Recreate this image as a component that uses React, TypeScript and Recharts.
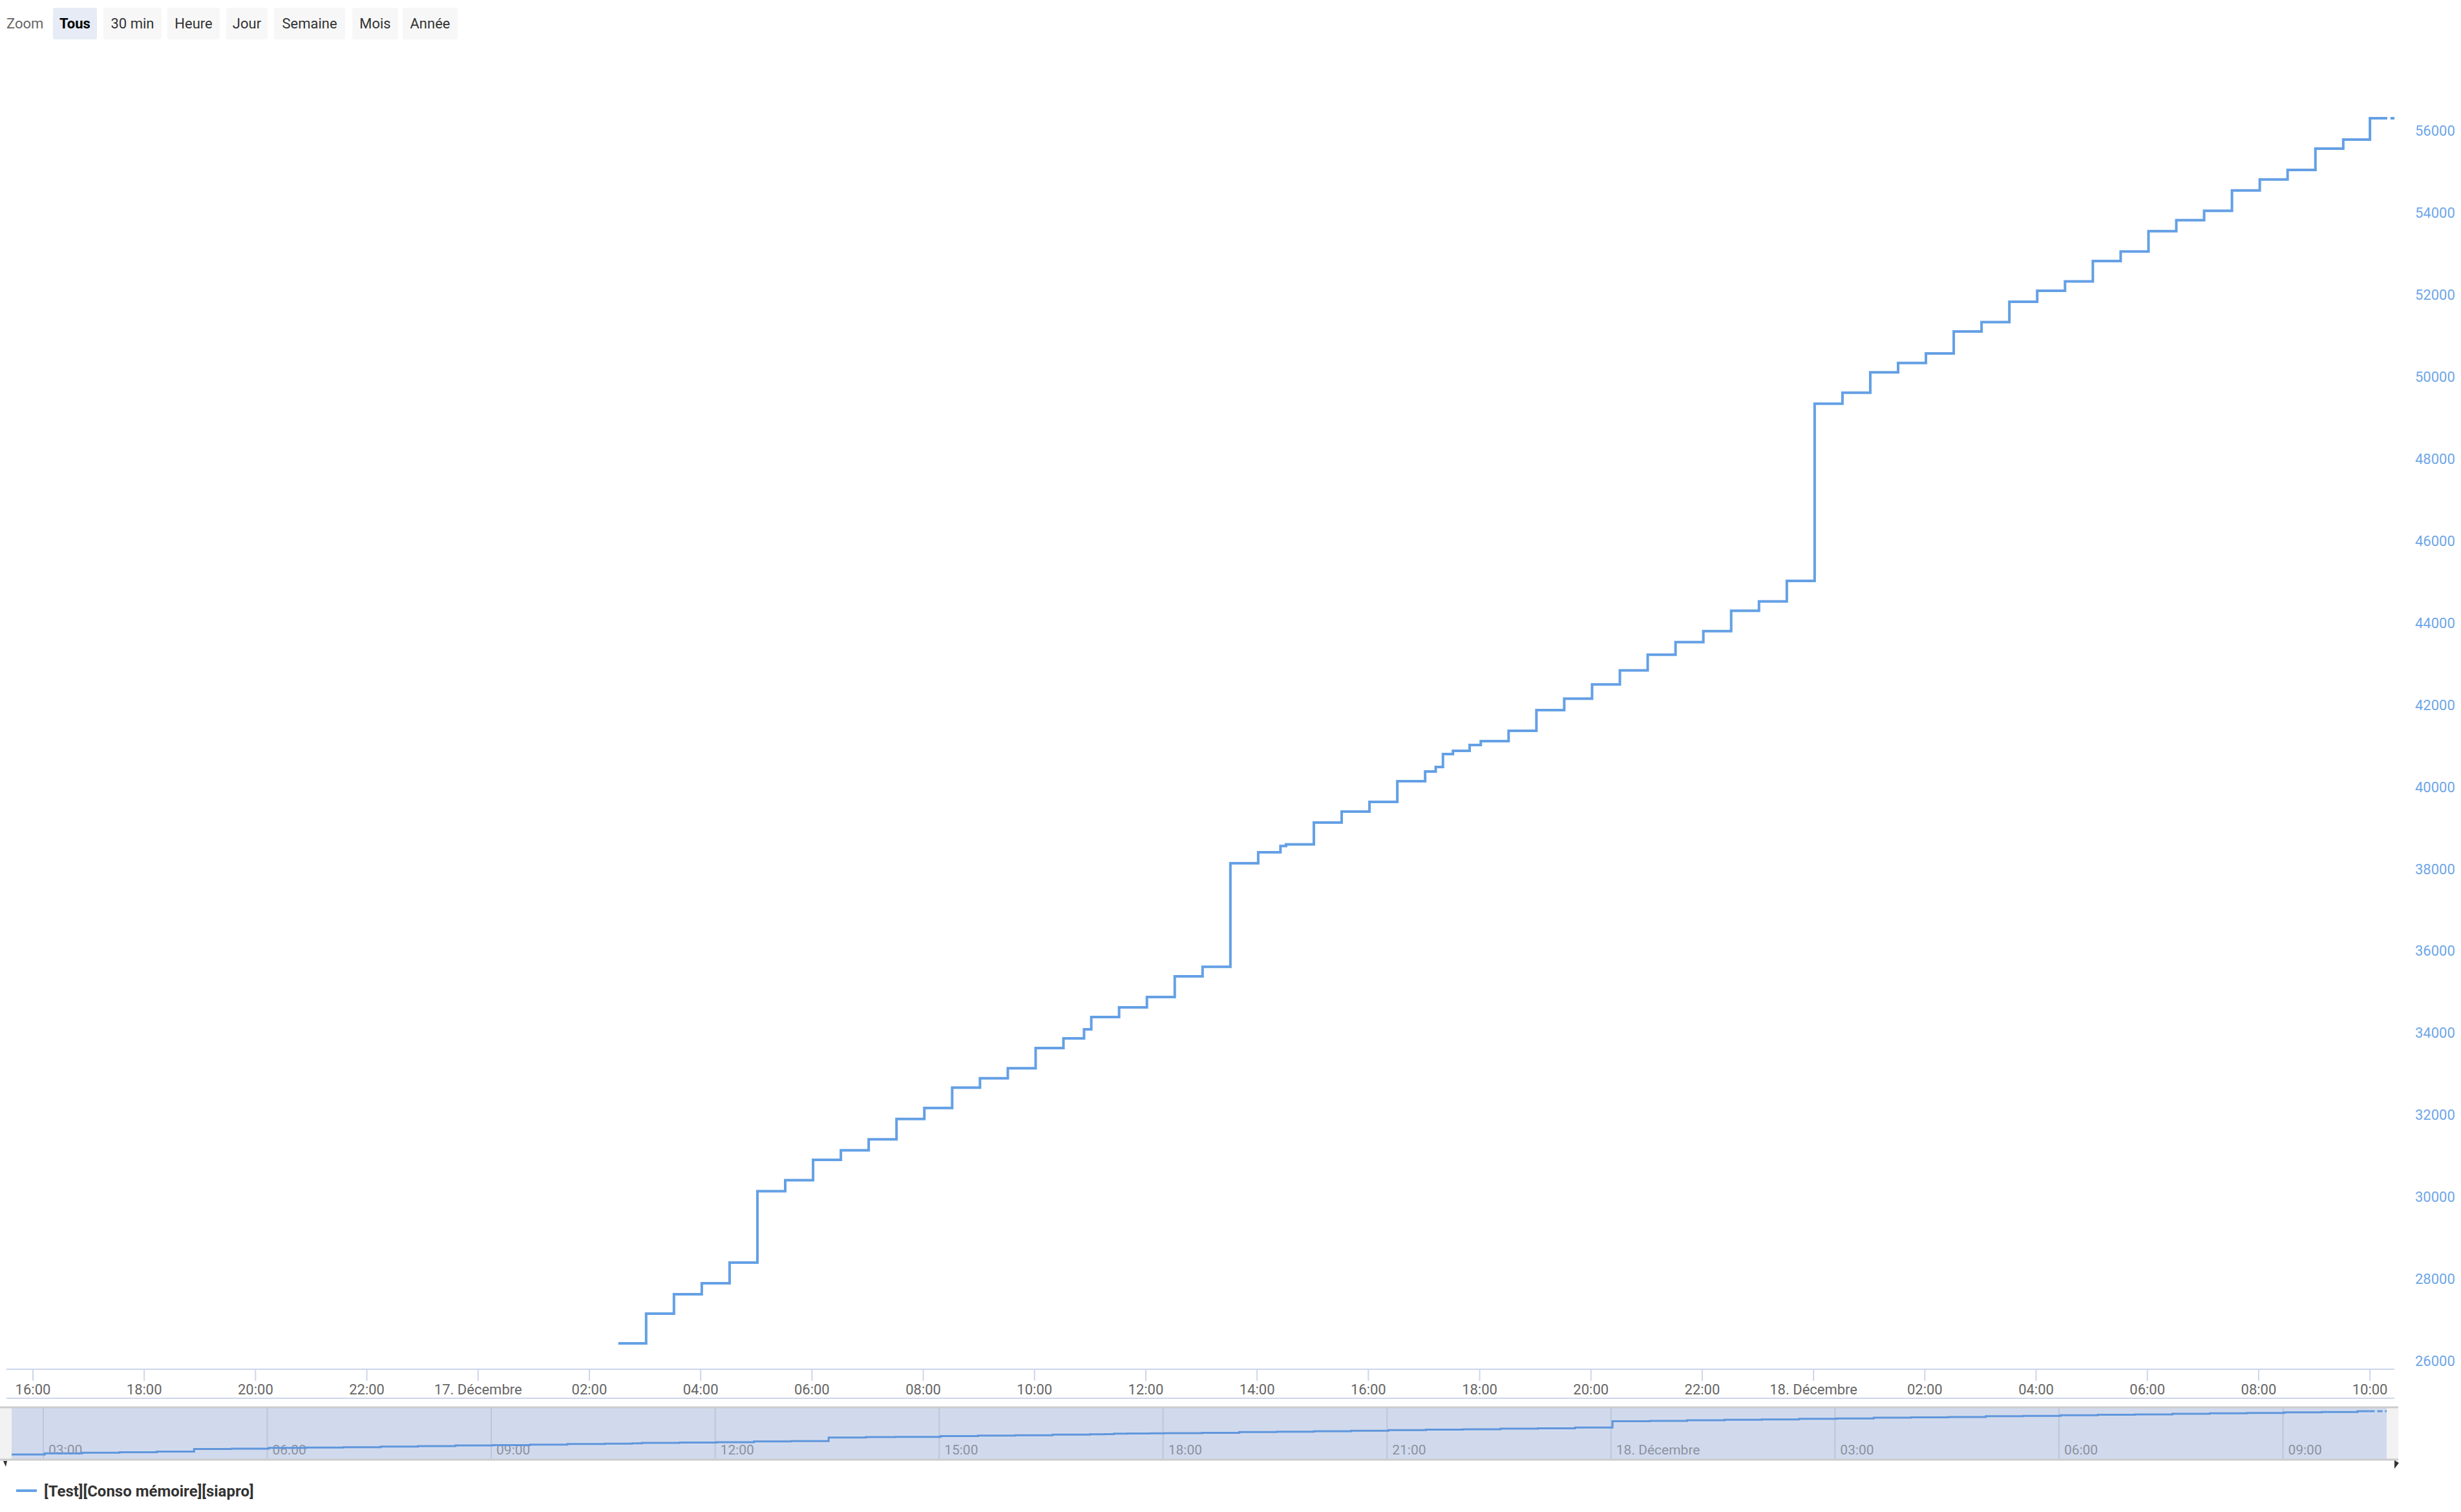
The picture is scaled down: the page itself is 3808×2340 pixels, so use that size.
import React from 'react';
import { LineChart, Line, XAxis, YAxis, ReferenceLine } from 'recharts';

// time = hours since 16 Dec 00:00
const times = [26.52, 27.02, 27.52, 28.02, 28.52, 29.02, 29.52, 30.02, 30.52, 31.02, 31.52, 32.02, 32.52, 33.02, 33.52, 34.02, 34.52, 34.89, 35.02, 35.52, 36.02, 36.52, 37.02, 37.52, 38.02, 38.42, 38.52, 39.02, 39.52, 40.02, 40.52, 41.02, 41.21, 41.34, 41.52, 41.82, 42.02, 42.52, 43.02, 43.52, 44.02, 44.52, 45.02, 45.52, 46.02, 46.52, 47.02, 47.52, 48.02, 48.52, 49.02, 49.52, 50.02, 50.52, 51.02, 51.52, 52.02, 52.52, 53.02, 53.52, 54.02, 54.52, 55.02, 55.52, 56.02, 56.52, 57.02, 57.52, 58.0, 58.16];
const values = [26630, 27355, 27828, 28096, 28600, 30343, 30610, 31108, 31337, 31605, 32102, 32370, 32868, 33097, 33340, 33833, 34069, 34290, 34590, 34826, 35078, 35584, 35814, 38339, 38607, 38760, 38800, 39334, 39602, 39838, 40342, 40578, 40689, 41004, 41083, 41225, 41319, 41571, 42076, 42356, 42700, 43045, 43427, 43733, 44001, 44499, 44728, 45226, 49549, 49817, 50314, 50544, 50773, 51309, 51538, 52035, 52303, 52533, 53030, 53260, 53757, 54025, 54255, 54752, 55020, 55250, 55772, 55992, 56512, 56512];
const tailTimes = [58.16, 58.44];
const tailValues = [56512, 56512];

const xTicks = [16, 18, 20, 22, 24, 26, 28, 30, 32, 34, 36, 38, 40, 42, 44, 46, 48, 50, 52, 54, 56, 58];
const yTicks = [26000, 28000, 30000, 32000, 34000, 36000, 38000, 40000, 42000, 44000, 46000, 48000, 50000, 52000, 54000, 56000];
const navTicks = [27, 30, 33, 36, 39, 42, 45, 48, 51, 54, 57];
const rangeButtons = ['Tous', '30 min', 'Heure', 'Jour', 'Semaine', 'Mois', 'Année'];
const seriesName = '[Test][Conso mémoire][siapro]';

const mainData = times.map((t, i) => ({ t, v: values[i] }));
const tailData = tailTimes.map((t, i) => ({ t, v: tailValues[i] }));

const COLOR = '#64a0e5';
const FONT = 'Roboto, "Noto Sans", sans-serif';

function fmtTime(h: number): string {
  const hh = Math.round(h) % 24;
  if (hh === 0) {
    const day = 16 + Math.round(h) / 24;
    return `${day}. Décembre`;
  }
  return `${hh < 10 ? '0' : ''}${hh}:00`;
}

const XTick = (props: any) => {
  const { x, y, payload } = props;
  return (
    <g>
      <line x1={x} x2={x} y1={y} y2={y + 18} stroke="#ccd6eb" strokeWidth={2} />
      <text x={x} y={y + 39} textAnchor="middle" fontSize={22} fill="#666666" fontFamily={FONT}>
        {fmtTime(payload.value)}
      </text>
    </g>
  );
};

const YTick = (props: any) => {
  const { x, y, payload } = props;
  return (
    <text x={x + 32} y={y - 5} textAnchor="start" fontSize={22} fill="#6ea6e8" fontFamily={FONT}>
      {payload.value}
    </text>
  );
};

const NavLabel = (props: any) => {
  const { viewBox, text } = props;
  if (!viewBox) return null;
  return (
    <text x={viewBox.x + 8} y={viewBox.y + 73} fontSize={21} fill="#8c92a0" fontFamily={FONT}>
      {text}
    </text>
  );
};

const buttonBoxes = [
  [82, 68], [160, 90], [259, 81], [350, 64], [424, 110], [545, 71], [623, 85],
];

export default function App() {
  return (
    <div style={{ position: 'absolute', left: 0, top: 0, width: 3808, height: 2340, background: '#ffffff', fontFamily: FONT }}>
      <div style={{ position: 'absolute', left: 0, top: 0 }}>
        <LineChart width={3808} height={2340} margin={{ top: 152, left: 10, right: 0, bottom: 176 }}>
          <XAxis
            dataKey="t"
            type="number"
            domain={[15.524, 58.44]}
            ticks={xTicks}
            interval={0}
            allowDataOverflow
            height={45}
            axisLine={{ stroke: '#ccd6eb', strokeWidth: 2 }}
            tickLine={false}
            tickSize={0}
            tickMargin={0}
            tick={<XTick />}
          />
          <YAxis
            orientation="right"
            type="number"
            domain={[26000, 57000]}
            ticks={yTicks}
            interval={0}
            allowDataOverflow
            width={103}
            axisLine={false}
            tickLine={false}
            tickSize={0}
            tickMargin={0}
            tick={<YTick />}
          />
          <Line data={mainData} dataKey="v" type="stepAfter" stroke={COLOR} strokeWidth={4} dot={false} activeDot={false} isAnimationActive={false} />
          <Line data={tailData} dataKey="v" type="stepAfter" stroke={COLOR} strokeWidth={4} strokeDasharray="13 5" dot={false} activeDot={false} isAnimationActive={false} />
        </LineChart>
      </div>

      <div style={{ position: 'absolute', left: 18, top: 2178, width: 3675, height: 81, background: '#d1daed' }} />
      <div style={{ position: 'absolute', left: 18, top: 2178 }}>
        <LineChart width={3675} height={81} margin={{ top: 0, left: 0, right: 0, bottom: 0 }}>
          <XAxis dataKey="t" type="number" domain={[26.576, 58.39]} hide allowDataOverflow />
          <YAxis type="number" domain={[23000, 59200]} hide allowDataOverflow />
          {navTicks.map((t) => (
            <ReferenceLine key={t} x={t} stroke="#bcc6da" strokeWidth={2} label={<NavLabel text={fmtTime(t)} />} />
          ))}
          <Line data={mainData} dataKey="v" type="stepAfter" stroke="#5f96dc" strokeWidth={3} dot={false} activeDot={false} isAnimationActive={false} />
          <Line data={tailData} dataKey="v" type="stepAfter" stroke="#5f96dc" strokeWidth={3} strokeDasharray="8 4" dot={false} activeDot={false} isAnimationActive={false} />
        </LineChart>
      </div>

      <svg width={3808} height={2340} style={{ position: 'absolute', left: 0, top: 0, pointerEvents: 'none' }}>
        <text x={10} y={44} fontSize={22} fill="#666666" fontFamily={FONT}>Zoom</text>
        {rangeButtons.map((b, i) => {
          const [bx, bw] = buttonBoxes[i];
          const sel = i === 0;
          return (
            <g key={b}>
              <rect x={bx} y={12} width={bw} height={49} rx={3} fill={sel ? '#e6ebf5' : '#f7f7f7'} />
              <text x={bx + bw / 2} y={44} textAnchor="middle" fontSize={22} fontWeight={sel ? 700 : 400} fill={sel ? '#000000' : '#333333'} fontFamily={FONT}>{b}</text>
            </g>
          );
        })}

        <line x1={10} x2={3705} y1={2164} y2={2164} stroke="#ccd6eb" strokeWidth={2} />

        <rect x={0} y={2178} width={18} height={81} fill="#f2f2f2" />
        <rect x={3693} y={2178} width={18} height={81} fill="#f2f2f2" />
        <line x1={0} x2={3711} y1={2178} y2={2178} stroke="#cccccc" strokeWidth={3} />
        <line x1={0} x2={3711} y1={2259} y2={2259} stroke="#cccccc" strokeWidth={3} />
        <path d="M5 2261 L11 2261 L9 2270 Z" fill="#333333" />
        <path d="M3705 2260 L3712 2264 L3705 2273 Z" fill="#333333" />

        <line x1={25} x2={57} y1={2307} y2={2307} stroke={COLOR} strokeWidth={4} />
        <text x={68} y={2316} fontSize={24} fontWeight={700} fill="#333333" fontFamily={FONT}>{seriesName}</text>
      </svg>
    </div>
  );
}
